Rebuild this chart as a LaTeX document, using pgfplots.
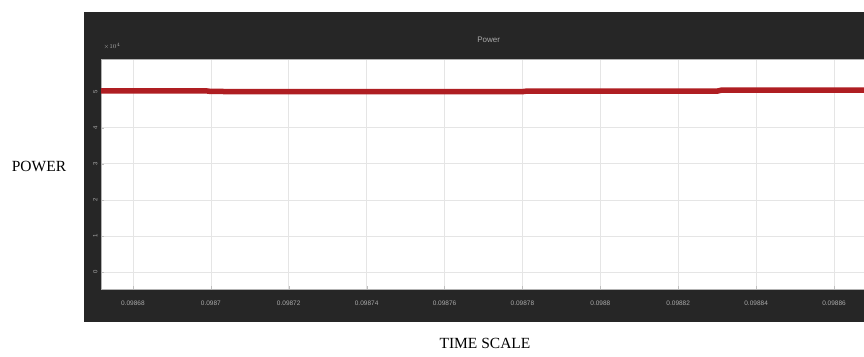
\documentclass[border=0pt]{standalone}
\usepackage{pgfplots}
\pgfplotsset{compat=1.18}
\usepackage{fontspec}
\setmainfont{Liberation Serif}
\setsansfont{Liberation Sans}
\definecolor{panel}{RGB}{38,38,38}
\definecolor{linered}{RGB}{175,30,34}
\definecolor{ticktext}{RGB}{170,170,170}
\begin{document}
\begin{tikzpicture}
\useasboundingbox (0pt,0pt) rectangle (864pt,356pt);
\fill[panel] (84pt,34pt) rectangle (864pt,344pt);
\node[font=\fontsize{15.5}{18}\selectfont] at (39pt,190pt) {POWER};
\node[font=\fontsize{15.5}{18}\selectfont] at (485pt,13pt) {TIME SCALE};
\begin{axis}[
  at={(101pt,67pt)}, anchor=south west,
  width=763pt, height=230pt, scale only axis,
  xmin=0.0986718, xmax=0.0988677,
  ymin=-4700, ymax=59000,
  scaled x ticks=false, scaled y ticks=false,
  axis background/.style={fill=white},
  axis line style={draw=gray!60},
  grid=major,
  major grid style={draw=gray!20, line width=0.6pt},
  xtick={0.09868,0.0987,0.09872,0.09874,0.09876,0.09878,0.0988,0.09882,0.09884,0.09886},
  xticklabels={0.09868,0.0987,0.09872,0.09874,0.09876,0.09878,0.0988,0.09882,0.09884,0.09886},
  ytick={0,10000,20000,30000,40000,50000},
  yticklabels={0,1,2,3,4,5},
  tick style={draw=gray!50},
  major tick length=3pt,
  xtick pos=bottom, ytick pos=left,
  tick align=inside,
  xticklabel style={font=\sffamily\fontsize{6.5}{7}\selectfont, text=ticktext, yshift=-8pt},
  yticklabel style={font=\sffamily\fontsize{6}{7}\selectfont, text=ticktext, rotate=90, anchor=south},
  title={Power},
  title style={at={(0.508,1)}, anchor=south, yshift=7pt, font=\sffamily\fontsize{8}{9}\selectfont, text=ticktext},
  clip=true,
]
\addplot[linered, line width=5.5pt] coordinates {
  (0.0986718,50150) (0.098699,50150) (0.0987,50000) (0.09878,49950) (0.098781,50100)
  (0.09883,50100) (0.098831,50350) (0.0988677,50350)
};
\end{axis}
\node[font=\sffamily\fontsize{6}{7}\selectfont, text=ticktext, anchor=south west] at (100pt,303pt) {$\times10^{4}$};
\end{tikzpicture}
\end{document}
